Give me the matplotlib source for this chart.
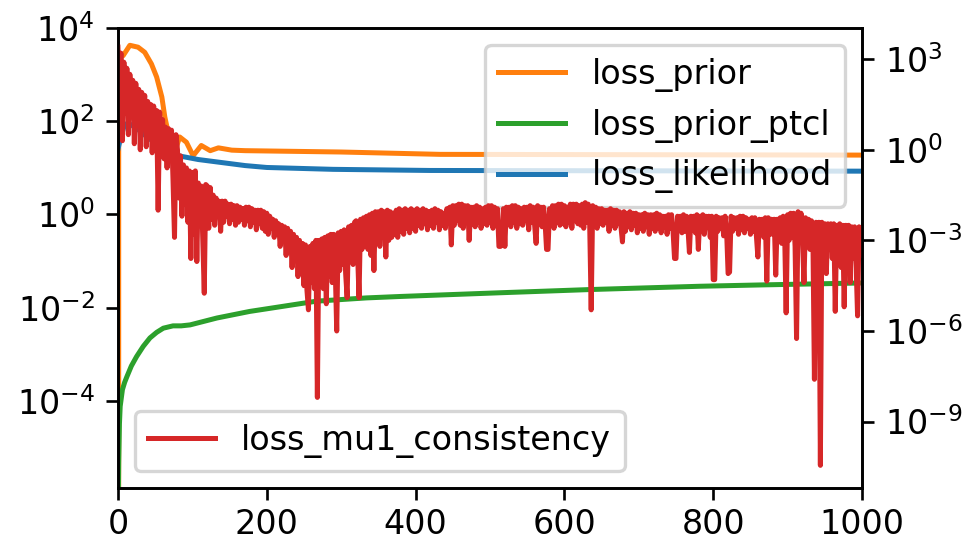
import numpy as np
import matplotlib.pyplot as plt

# ==============================
# DATA
# ==============================

# loss_prior (left axis)
prior_step = [0, 1, 7, 16, 27, 36, 45, 52, 59, 63, 66, 70, 76, 83, 92, 101,
              112, 124, 135, 153, 171, 300, 433, 600, 800, 1000]
prior_loss = [0.0, 2200, 2570, 4270, 3890, 3020, 1700, 891, 331, 123, 74, 40,
              21, 46, 35.5, 18.2, 30.2, 23.4, 26.9, 24.0, 23.4, 21.9, 19.5,
              19.3, 19.05, 18.8]

# loss_prior_ptcl (left axis)
ptcl_step = [0, 1, 2, 3, 6, 9, 12, 18, 25, 34, 43, 52, 61, 74, 85, 97, 133,
             177, 222, 267, 334, 380, 514, 635, 782, 870, 1000]
ptcl_loss = [1e-7, 4.7e-6, 3.2e-5, 7.6e-5, 1.74e-4, 2.5e-4, 3.3e-4, 5.6e-4,
             8.9e-4, 1.48e-3, 2.24e-3, 2.95e-3, 3.63e-3, 4.07e-3, 4.07e-3,
             4.27e-3, 6.0e-3, 8.3e-3, 1.07e-2, 1.38e-2, 1.62e-2, 1.74e-2,
             2.09e-2, 2.45e-2, 2.88e-2, 3.09e-2, 3.39e-2]

# loss_likelihood (left axis)
lik_step = [0, 3, 9, 15, 25, 40, 60, 78, 108, 171, 200, 289, 419, 600, 800,
            1000]
lik_loss = [25, 40, 87, 89, 71, 45, 26.3, 18.6, 15.1, 11.2, 10.2, 9.3, 8.8,
            8.7, 8.6, 8.5]

# loss_mu1_consistency (right axis), log10 of the loss every 2 steps
mu1_log10 = [
    # 0
    3.4, 2.0, 3.2, 0.3, 2.9, 1.2, 2.7, 0.5, 2.5, 1.6,
    2.3, 0.2, 2.2, 1.0, 2.0, 0.0, 1.9, 1.3, 1.8, 0.1,
    # 40
    1.6, 0.4, 1.5, -0.1, 1.45, 0.6, 1.3, -2.0, 1.25, 0.1,
    1.0, -0.3, 0.75, -0.6, 0.7, -0.2, 0.65, -1.0, -2.9, 0.5,
    # 80
    0.0, -1.6, -0.2, -2.2, -0.5, -1.8, -0.6, -2.4, -0.7, -3.6,
    -0.75, -2.8, -0.7, -3.7, -1.1, -2.5, -1.2, -3.0, -4.75, -1.15,
    # 120
    -1.2, -2.6, -1.25, -2.3, -1.5, -2.5, -1.6, -2.2, -1.7, -2.7,
    -1.7, -2.4, -1.7, -2.2, -1.8, -2.45, -1.8, -2.3, -1.85, -2.5,
    # 160
    -1.85, -2.4, -1.9, -2.3, -1.95, -2.5, -1.9, -2.35, -1.9, -2.55,
    -1.95, -2.4, -2.0, -2.65, -2.0, -2.45, -2.0, -2.6, -2.05, -2.7,
    # 200
    -2.1, -2.8, -2.2, -2.6, -2.3, -2.9, -2.35, -2.8, -2.45, -3.2,
    -2.5, -3.0, -2.55, -3.5, -2.6, -3.3, -2.7, -3.9, -2.8, -3.6,
    # 240
    -2.9, -4.2, -3.0, -3.9, -3.1, -4.5, -3.15, -4.65, -5.3, -3.2,
    -4.4, -3.1, -4.6, -3.0, -8.2, -3.0, -4.3, -2.95, -4.6, -2.9,
    # 280
    -5.1, -2.85, -4.2, -2.8, -4.4, -2.8, -3.9, -6.0, -2.75, -4.0,
    -2.7, -3.8, -2.65, -4.1, -4.9, -2.55, -3.6, -2.5, -3.8, -2.4,
    # 320
    -2.35, -3.4, -4.9, -2.3, -3.3, -2.25, -3.1, -2.2, -3.3, -2.15,
    -3.5, -2.1, -4.0, -2.05, -3.1, -2.05, -3.2, -2.0, -2.9, -2.05,
    # 360
    -3.55, -2.0, -3.0, -2.05, -2.9, -2.1, -2.8, -2.0, -2.9, -1.95,
    -2.7, -2.0, -2.8, -1.95, -2.6, -2.0, -2.75, -1.95, -2.6, -2.0,
    # 400
    -2.7, -1.95, -2.5, -2.0, -2.6, -1.95, -2.45, -2.0, -2.65, -2.05,
    -2.5, -2.0, -2.6, -1.95, -2.4, -2.0, -2.65, -2.05, -2.5, -2.1,
    # 440
    -2.6, -1.95, -2.4, -1.9, -3.15, -1.85, -2.5, -1.85, -2.35, -1.8,
    -2.5, -1.8, -2.6, -1.85, -2.4, -1.85, -3.0, -1.9, -2.45, -1.9,
    # 480
    -2.55, -1.85, -2.4, -1.9, -2.6, -1.95, -2.45, -1.9, -2.5, -1.85,
    -2.35, -1.85, -2.6, -1.9, -2.45, -1.95, -3.2, -3.2, -3.15, -1.95,
    # 520
    -3.2, -1.9, -2.4, -1.9, -2.55, -1.85, -2.4, -1.85, -2.6, -1.9,
    -2.45, -1.95, -2.5, -1.9, -2.35, -1.9, -2.65, -1.85, -2.4, -1.9,
    # 560
    -2.5, -3.1, -1.85, -2.4, -1.9, -2.55, -1.9, -2.4, -3.3, -3.3,
    -1.95, -2.5, -1.85, -2.6, -1.85, -2.4, -1.8, -2.5, -1.8, -2.45,
    # 600
    -1.85, -2.55, -1.9, -2.4, -1.8, -2.6, -1.8, -2.35, -1.8, -2.45,
    -1.85, -2.5, -1.8, -2.6, -1.75, -2.4, -1.8, -2.5, -5.3, -1.85,
    # 640
    -2.45, -1.9, -2.6, -1.95, -2.45, -1.95, -2.5, -2.0, -2.4, -2.0,
    -2.7, -1.95, -2.5, -2.0, -2.6, -2.0, -2.45, -2.05, -2.55, -3.05,
    # 680
    -2.05, -2.7, -2.1, -2.55, -2.05, -2.65, -2.1, -2.5, -2.1, -2.75,
    -2.15, -2.6, -2.15, -2.7, -2.1, -2.55, -2.15, -2.8, -2.15, -2.6,
    # 720
    -2.15, -2.7, -2.1, -2.6, -2.15, -2.75, -2.2, -2.55, -2.2, -2.8,
    -2.15, -2.6, -2.15, -2.7, -3.6, -3.6, -2.2, -2.65, -2.2, -2.75,
    # 760
    -2.15, -2.7, -2.2, -2.6, -3.4, -2.2, -2.65, -2.2, -2.75, -2.15,
    -3.3, -2.2, -2.6, -2.15, -2.8, -2.2, -2.55, -2.2, -2.9, -2.2,
    # 800
    -4.3, -4.3, -2.2, -2.7, -2.25, -2.6, -2.25, -2.85, -2.2, -2.7,
    -4.1, -4.05, -2.2, -2.7, -2.25, -2.6, -2.25, -2.8, -2.2, -2.65,
    # 840
    -2.2, -2.75, -2.25, -2.6, -2.3, -2.8, -2.25, -2.7, -2.25, -2.85,
    -3.55, -2.3, -2.75, -2.3, -2.9, -2.25, -4.35, -2.25, -2.8, -2.3,
    # 880
    -2.8, -2.3, -4.15, -2.3, -2.9, -2.25, -3.1, -2.2, -2.8, -5.4,
    -2.15, -3.0, -2.1, -2.9, -2.1, -3.2, -6.25, -2.05, -2.9, -2.1,
    # 920
    -3.0, -4.4, -2.25, -3.1, -2.3, -3.3, -2.35, -3.0, -7.6, -2.4,
    -3.2, -2.4, -10.45, -2.4, -3.4, -2.45, -4.1, -2.45, -3.3, -2.45,
    # 960
    -3.6, -2.45, -5.35, -2.5, -3.5, -2.45, -3.9, -2.5, -5.2, -2.5,
    -3.4, -2.5, -4.4, -2.55, -3.6, -2.55, -3.8, -5.5, -2.55, -3.5,
    # 1000
    -2.6,
]
mu1_step = np.linspace(0, 1000, len(mu1_log10))
mu1_loss = 10.0 ** np.array(mu1_log10)

# ==============================
# PLOT
# ==============================

DPI = 240
fig = plt.figure(figsize=(970 / DPI, 540 / DPI), dpi=DPI)
ax1 = fig.add_axes([0.1216, 0.0963, 0.7671, 0.8517])
ax2 = ax1.twinx()

ax1.semilogy(prior_step, prior_loss, color='tab:orange', label='loss_prior')
ax1.semilogy(ptcl_step, ptcl_loss, color='tab:green', label='loss_prior_ptcl')
ax1.semilogy(lik_step, lik_loss, color='tab:blue', label='loss_likelihood')

ax2.semilogy(mu1_step, mu1_loss, color='tab:red', label='loss_mu1_consistency')

ax1.set_xlim(0, 1000)
ax1.set_xticks([0, 200, 400, 600, 800, 1000])
ax1.tick_params(axis='x', pad=2.5)

ax1.set_ylim(10 ** -5.87, 10 ** 4.0)
ax1.set_yticks([1e-4, 1e-2, 1e0, 1e2, 1e4])
ax1.yaxis.set_minor_locator(plt.NullLocator())

ax2.set_ylim(10 ** -11.2, 10 ** 4.03)
ax2.set_yticks([1e-9, 1e-6, 1e-3, 1e0, 1e3])
ax2.yaxis.set_minor_locator(plt.NullLocator())

ax1.legend(loc='upper right')
ax2.legend(loc='lower left')

fig.savefig('out.png', dpi=DPI)
